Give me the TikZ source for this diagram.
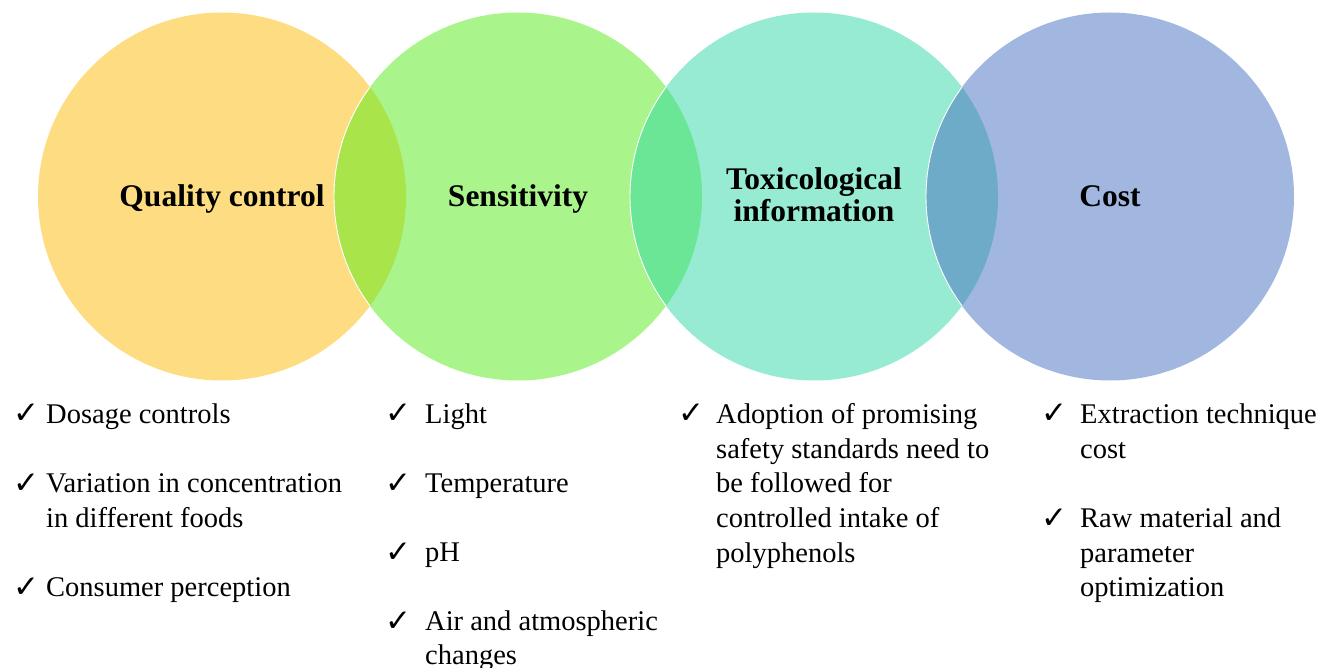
\documentclass[tikz,border=0pt]{standalone}
\usepackage{fontspec}
\setmainfont{Liberation Serif}
\newfontfamily\symfnt{DejaVu Sans}
\definecolor{cyel}{HTML}{FEDD82}
\definecolor{cgrn}{HTML}{A9F48B}
\definecolor{ctea}{HTML}{96EBD2}
\definecolor{cblu}{HTML}{A1B7E0}
\definecolor{oyg}{HTML}{A8E44A}
\definecolor{ogt}{HTML}{6BE696}
\definecolor{otb}{HTML}{6DABC9}
\begin{document}
\begin{tikzpicture}[x=1pt,y=-1pt,
  title/.style={font=\fontsize{31.5}{32}\selectfont\bfseries, anchor=base, inner sep=0pt},
  item/.style={font=\fontsize{28.5}{34.5}\selectfont, anchor=base west, inner sep=0pt},
  tick/.style={font=\symfnt\fontsize{31}{31}\selectfont, anchor=base west, inner sep=0pt},
  edge/.style={draw=white, line width=0.9pt}]
\useasboundingbox (0,0) rectangle (1318,668);
\def\R{184}
\coordinate (c1) at (222,196.5);
\coordinate (c2) at (518,196.5);
\coordinate (c3) at (814,196.5);
\coordinate (c4) at (1110,196.5);
% circles
\fill[cyel] (c1) circle (\R);
\fill[cgrn] (c2) circle (\R);
\fill[ctea] (c3) circle (\R);
\fill[cblu] (c4) circle (\R);
% overlaps
\begin{scope}\clip (c1) circle (\R); \fill[oyg] (c2) circle (\R); \draw[edge] (c2) circle (\R); \end{scope}
\begin{scope}\clip (c2) circle (\R); \fill[ogt] (c3) circle (\R); \draw[edge] (c3) circle (\R); \end{scope}
\begin{scope}\clip (c3) circle (\R); \fill[otb] (c4) circle (\R); \draw[edge] (c4) circle (\R); \end{scope}
% titles
\node[title] (t1) at (222,207) {Quality control};
\node[title] (t2) at (518,207) {Sensitivity};
\node[title] (t3a) at (814,190) {Toxicological};
\node[title] (t3b) at (814,221.5) {information};
\node[title] (t4) at (1110,207) {Cost};
% column 1
\node[tick] (k11) at (13,424) {✓};
\node[item] (a11) at (46,423) {Dosage controls};
\node[tick] (k12) at (13,493) {✓};
\node[item] (a12) at (46,492) {Variation in concentration};
\node[item] (a12b) at (46,527) {in different foods};
\node[tick] (k13) at (13,597) {✓};
\node[item] (a13) at (46,596) {Consumer perception};
% column 2
\node[tick] (k21) at (385,424) {✓};
\node[item] (a21) at (425,423) {Light};
\node[tick] (k22) at (385,493) {✓};
\node[item] (a22) at (425,492) {Temperature};
\node[tick] (k23) at (385,562) {✓};
\node[item] (a23) at (425,561) {pH};
\node[tick] (k24) at (385,631) {✓};
\node[item] (a24) at (425,630) {Air and atmospheric};
\node[item] (a24b) at (425,664.5) {changes};
% column 3
\node[tick] (k31) at (678,424) {✓};
\node[item] (a31) at (716,423) {Adoption of promising};
\node[item] (a31b) at (716,458) {safety standards need to};
\node[item] (a31c) at (716,492) {be followed for};
\node[item] (a31d) at (716,527) {controlled intake of};
\node[item] (a31e) at (716,562) {polyphenols};
% column 4
\node[tick] (k41) at (1041,424) {✓};
\node[item] (a41) at (1080,423) {Extraction technique};
\node[item] (a41b) at (1080,458) {cost};
\node[tick] (k42) at (1041,528) {✓};
\node[item] (a42) at (1080,527) {Raw material and};
\node[item] (a42b) at (1080,562) {parameter};
\node[item] (a42c) at (1080,596) {optimization};
\end{tikzpicture}
\end{document}
